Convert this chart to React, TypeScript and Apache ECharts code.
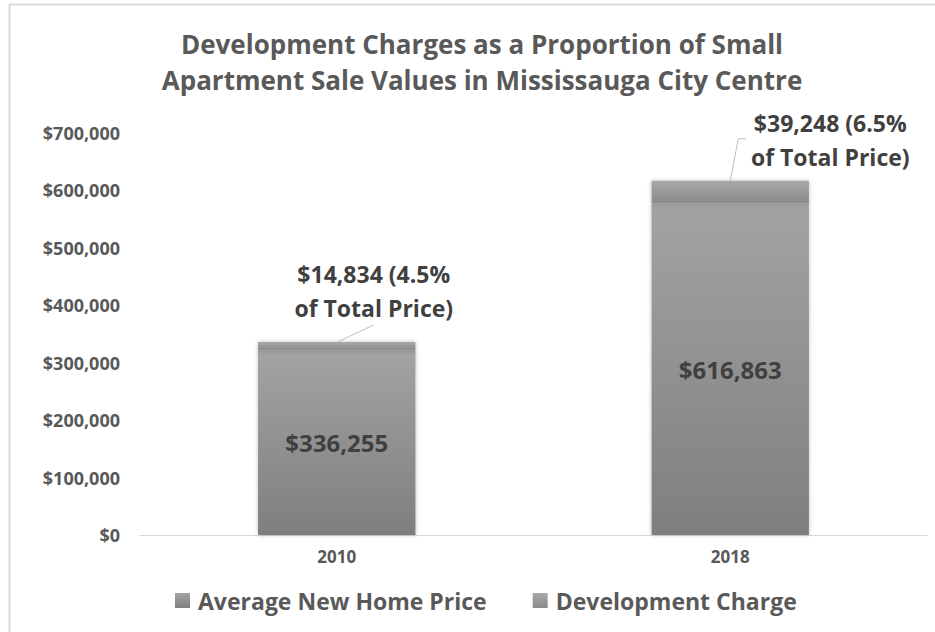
import React, { useEffect, useRef } from "react";
import * as echarts from "echarts";

const categories = ["2010", "2018"];
const totalPrice = [336255, 616863];
const devCharge = [14834, 39248];
const devShare = ["4.5%", "6.5%"];
const yTicks = [0, 100000, 200000, 300000, 400000, 500000, 600000, 700000];

const FONT = "'Open Sans', Lato, sans-serif";

function money(v: number) {
  return "$" + Math.round(v).toLocaleString("en-US");
}

export default function App() {
  const ref = useRef<HTMLDivElement>(null);
  useEffect(() => {
    if (!ref.current) return;
    const chart = echarts.init(ref.current, undefined, { renderer: "svg" });
    const basePrice = totalPrice.map((t, i) => t - devCharge[i]);
    const labelShift = [
      { dx: 37, dy: -12 },
      { dx: 100, dy: -2 },
    ];
    // leader line offsets relative to the top-centre of each stacked bar
    const leaderOffsets = [
      [
        [1, 0],
        [37, -17],
      ],
      [
        [0, 0],
        [8, -42],
        [16, -42],
      ],
    ];
    const baseGrad = new echarts.graphic.LinearGradient(0, 0, 0, 1, [
      { offset: 0, color: "#a3a3a3" },
      { offset: 1, color: "#7f7f7f" },
    ]);
    const devGrad = new echarts.graphic.LinearGradient(0, 0, 0, 1, [
      { offset: 0, color: "#a8a8a8" },
      { offset: 1, color: "#8a8a8a" },
    ]);
    const frame = {
      type: "rect",
      shape: { x: 9.5, y: 4.5, width: 940, height: 640 },
      style: { fill: "none", stroke: "#d9d9d9", lineWidth: 2 },
      silent: true,
      z: -1,
    };
    chart.setOption({
      animation: false,
      backgroundColor: "#ffffff",
      title: {
        text: "Development Charges as a Proportion of Small\nApartment Sale Values in Mississauga City Centre",
        left: 477,
        textAlign: "center",
        top: 21,
        textStyle: {
          fontFamily: FONT,
          fontSize: 26,
          fontWeight: "bold",
          color: "#595959",
          lineHeight: 36,
        },
      },
      graphic: [frame],
      legend: {
        bottom: 15,
        left: 170,
        itemWidth: 15,
        itemHeight: 15,
        itemGap: 46,
        icon: "rect",
        textStyle: {
          fontFamily: FONT,
          fontSize: 23,
          fontWeight: "bold",
          color: "#595959",
          padding: [0, 0, 0, 3],
        },
        data: ["Average New Home Price", "Development Charge"],
      },
      grid: { left: 140, right: 8, top: 133, bottom: 97 },
      xAxis: {
        type: "category",
        data: categories,
        axisLine: { lineStyle: { color: "#d9d9d9", width: 1 } },
        axisTick: { show: false },
        axisLabel: {
          fontFamily: FONT,
          fontSize: 17,
          fontWeight: "bold",
          color: "#595959",
          margin: 13,
        },
      },
      yAxis: {
        type: "value",
        min: yTicks[0],
        max: yTicks[yTicks.length - 1],
        interval: 100000,
        axisLine: { show: false },
        axisTick: { show: false },
        splitLine: { show: false },
        axisLabel: {
          fontFamily: FONT,
          fontSize: 18,
          fontWeight: "bold",
          color: "#595959",
          margin: 20,
          formatter: (v: number) => money(v),
        },
      },
      series: [
        {
          name: "Average New Home Price",
          type: "bar",
          stack: "total",
          barWidth: "40%",
          data: basePrice,
          itemStyle: {
            color: baseGrad,
            shadowBlur: 4,
            shadowColor: "rgba(0,0,0,0.25)",
          },
          label: {
            show: true,
            position: "inside",
            fontFamily: FONT,
            fontSize: 24,
            fontWeight: "bold",
            color: "#404040",
            formatter: (p: any) => money(totalPrice[p.dataIndex]),
          },
        },
        {
          name: "Development Charge",
          type: "bar",
          stack: "total",
          barWidth: "40%",
          data: devCharge,
          itemStyle: {
            color: devGrad,
            shadowBlur: 4,
            shadowColor: "rgba(0,0,0,0.25)",
          },
          label: {
            show: true,
            position: "top",
            distance: 5,
            fontFamily: FONT,
            fontSize: 23,
            fontWeight: "bold",
            color: "#404040",
            lineHeight: 34,
            align: "center",
            formatter: (p: any) =>
              money(devCharge[p.dataIndex]) + " (" + devShare[p.dataIndex] + "\nof Total Price)",
          },
          labelLayout: (p: any) => labelShift[p.dataIndex],
        },
      ],
    });
    const leaders = categories.map((c, i) => {
      const top = chart.convertToPixel({ seriesIndex: 1 }, [i, totalPrice[i]]) as number[];
      return {
        type: "polyline",
        shape: {
          points: leaderOffsets[i].map(([ox, oy]) => [top[0] + ox, top[1] + oy]),
        },
        style: { stroke: "#bfbfbf", lineWidth: 1, fill: "none" },
        silent: true,
        z: 10,
      };
    });
    chart.setOption({ graphic: [frame, ...leaders] });
    return () => chart.dispose();
  }, []);
  return (
    <div
      ref={ref}
      style={{ position: "fixed", left: 0, top: 0, width: 935, height: 632 }}
    />
  );
}
